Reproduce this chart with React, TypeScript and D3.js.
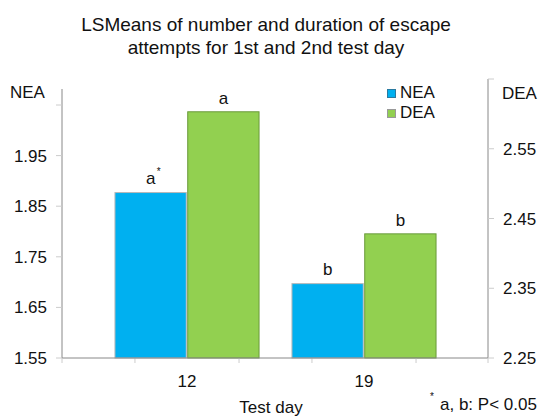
import React from "react";
import * as d3 from "d3";

const categories = ["12", "19"];
const seriesNames = ["NEA", "DEA"];
const neaValues = [1.877, 1.697];
const deaValues = [2.603, 2.428];
const neaLetters = ["a", "b"];
const deaLetters = ["a", "b"];
const leftTicks = [1.55, 1.65, 1.75, 1.85, 1.95, 2.05];
const leftTickLabels = ["1.55", "1.65", "1.75", "1.85", "1.95", ""];
const rightTicks = [2.25, 2.35, 2.45, 2.55, 2.65];
const rightTickLabels = ["2.25", "2.35", "2.45", "2.55", ""];

const W = 541;
const H = 416;
const FONT = "'Liberation Sans', Arial, Helvetica, sans-serif";
const colors = ["#00b0f0", "#92d050"];
const strokes = ["#b8b8b8", "#6a9a3a"];

export default function App() {
  const baseY = 358;
  const leftX = 62;
  const rightX = 488;
  const yL = d3.scaleLinear().domain([1.55, 2.05]).range([baseY, 105]);
  const yR = d3.scaleLinear().domain([2.25, 2.65]).range([baseY, 79]);
  const x0 = d3
    .scaleBand<string>()
    .domain(categories)
    .range([98.5, 452.5])
    .paddingInner(0.186)
    .paddingOuter(0.093);
  const x1 = d3
    .scaleBand<string>()
    .domain(seriesNames)
    .range([0, x0.bandwidth()])
    .paddingInner(0.02);

  const fs = 17;
  return (
    <svg
      width={W}
      height={H}
      style={{ position: "absolute", left: 0, top: 0, fontFamily: FONT }}
    >
      <rect x={0} y={0} width={W} height={H} fill="#fff" />
      <text x={266} y={31} textAnchor="middle" fontSize={19} fill="#111">
        LSMeans of number and duration of escape
      </text>
      <text x={266} y={54} textAnchor="middle" fontSize={19} fill="#111">
        attempts for 1st and 2nd test day
      </text>

      {/* bars */}
      {categories.map((c, i) => {
        const xs = x0(c)!;
        const nv = neaValues[i];
        const dv = deaValues[i];
        const nx = xs + x1("NEA")!;
        const dx = xs + x1("DEA")!;
        const bw = x1.bandwidth();
        return (
          <g key={c}>
            <rect
              x={nx}
              y={yL(nv)}
              width={bw}
              height={baseY - yL(nv)}
              fill={colors[0]}
              stroke={strokes[0]}
              strokeWidth={1}
            />
            <rect
              x={dx}
              y={yR(dv)}
              width={bw}
              height={baseY - yR(dv)}
              fill={colors[1]}
              stroke={strokes[1]}
              strokeWidth={1}
            />
            <text
              x={nx + bw / 2}
              y={yL(nv) - 9}
              textAnchor="middle"
              fontSize={fs}
              fill="#111"
            >
              {neaLetters[i]}
            </text>
            {i === 0 && (
              <text
                x={nx + bw / 2 + 8}
                y={yL(nv) - 18}
                textAnchor="middle"
                fontSize={10}
                fill="#111"
              >
                *
              </text>
            )}
            <text
              x={dx + bw / 2}
              y={yR(dv) - 8}
              textAnchor="middle"
              fontSize={fs}
              fill="#111"
            >
              {deaLetters[i]}
            </text>
            {/* x ticks */}
            <line
              x1={xs + 20}
              x2={xs + 20}
              y1={baseY}
              y2={baseY + 5}
              stroke="#ccc"
            />
            <line
              x1={xs + x0.bandwidth() - 20}
              x2={xs + x0.bandwidth() - 20}
              y1={baseY}
              y2={baseY + 5}
              stroke="#ccc"
            />
            <text
              x={xs + x0.bandwidth() / 2}
              y={387}
              textAnchor="middle"
              fontSize={fs}
              fill="#111"
            >
              {c}
            </text>
          </g>
        );
      })}

      {/* axes */}
      <line x1={leftX} x2={leftX} y1={89} y2={baseY} stroke="#888" />
      <line x1={rightX} x2={rightX} y1={79} y2={baseY} stroke="#888" />
      <line x1={leftX} x2={rightX} y1={baseY} y2={baseY} stroke="#888" />
      {leftTicks.map((t, i) => (
        <g key={"l" + t}>
          <line
            x1={leftX - 6}
            x2={leftX}
            y1={yL(t)}
            y2={yL(t)}
            stroke="#ccc"
          />
          <text
            x={47}
            y={yL(t) + 6}
            textAnchor="end"
            fontSize={fs}
            fill="#111"
          >
            {leftTickLabels[i]}
          </text>
        </g>
      ))}
      <line x1={leftX} x2={leftX} y1={baseY} y2={baseY + 5} stroke="#ccc" />
      {rightTicks.map((t, i) => (
        <g key={"r" + t}>
          <line
            x1={rightX}
            x2={rightX + 6}
            y1={yR(t)}
            y2={yR(t)}
            stroke="#ccc"
          />
          <text
            x={503}
            y={yR(t) + 6}
            textAnchor="start"
            fontSize={fs}
            fill="#111"
          >
            {rightTickLabels[i]}
          </text>
        </g>
      ))}
      <line x1={rightX} x2={rightX} y1={baseY} y2={baseY + 5} stroke="#ccc" />

      <text x={10} y={98} fontSize={fs} fill="#111">
        NEA
      </text>
      <text x={502} y={99} fontSize={fs} fill="#111">
        DEA
      </text>

      {/* legend */}
      {seriesNames.map((s, i) => (
        <g key={s}>
          <rect
            x={387.5}
            y={89.5 + i * 20}
            width={8}
            height={8}
            fill={colors[i]}
            stroke={i === 0 ? "#2a7aa0" : "#999"}
          />
          <text x={400} y={98 + i * 20} fontSize={fs} fill="#111">
            {s}
          </text>
        </g>
      ))}

      <text x={271} y={413} textAnchor="middle" fontSize={fs} fill="#111">
        Test day
      </text>
      <text x={432} y={400} textAnchor="middle" fontSize={10} fill="#111">
        *
      </text>
      <text x={440} y={410} fontSize={fs} fill="#111">
        a, b: P&lt; 0.05
      </text>
    </svg>
  );
}
